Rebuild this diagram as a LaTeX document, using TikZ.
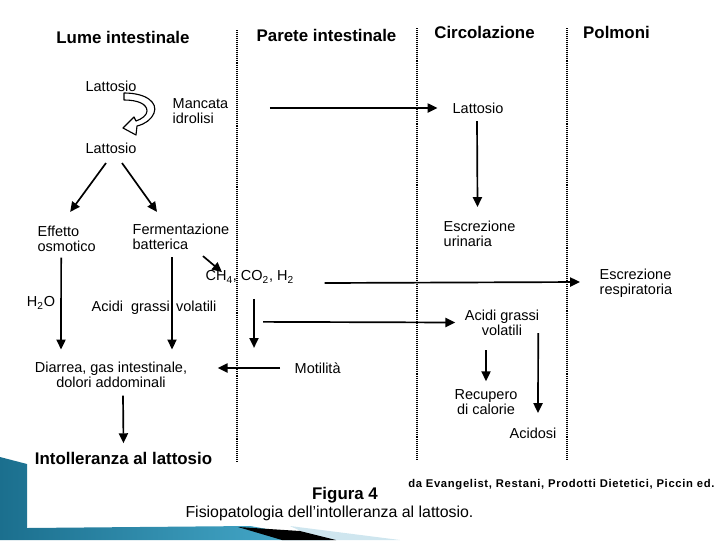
\documentclass[tikz,border=0pt]{standalone}
\usepackage{fontspec}
\setmainfont{Liberation Sans}
\newfontfamily\srcfont[LetterSpace=6]{Liberation Sans}
\usetikzlibrary{arrows.meta,positioning,calc}
\definecolor{tealdark}{HTML}{1B6F8E}
\definecolor{teallight}{HTML}{4AAFD0}
\definecolor{skypale}{HTML}{CFE6EF}

\begin{document}
\begin{tikzpicture}[x=0.025cm, y=-0.025cm,
        txt/.style={inner sep=1pt, font=\fontsize{10.3}{10.8}\selectfont},
        left text/.style={txt, anchor=west, align=left},
        mid text/.style={txt, align=center},
        header/.style={inner sep=1pt, font=\fontsize{12}{14}\selectfont\bfseries},
        arr/.style={-{Triangle[length=7pt,width=6.5pt]}, line width=1.2pt},
        divider/.style={line width=0.9pt, dash pattern=on 0.7pt off 0.7pt},
        hollow/.style={line width=0.8pt, fill=white, line join=round}]

        \useasboundingbox (0,0) rectangle (720,540);

        % slide ornament
        \shade[left color=tealdark, right color=teallight] (0,457) -- (27,464) -- (27,528) -- (250,526) -- (330,540) -- (0,540) -- cycle;
        \fill[skypale] (290,526) -- (400,540) -- (320,540) -- cycle;
        \fill[black] (238,527) -- (300,531) -- (336,540) -- (282,540) -- cycle;

        % column dividers
        \draw[divider] (237,30) -- (237,463);
        \draw[divider] (417,28) -- (417,460);
        \draw[divider] (567,28) -- (567,460);

        \node [header] (hlume) at (123,37) {Lume intestinale};
        \node [header] (hparete) at (326.5,35) {Parete intestinale};
        \node [header] (hcirc) at (484.5,32) {Circolazione};
        \node [header] (hpolm) at (616.5,32) {Polmoni};

        \node [txt] (lat1) at (111,86) {Lattosio};
        \node [left text] (mancata) at (171,111) {Mancata\\idrolisi};
        \node [txt] (lat2) at (111,148) {Lattosio};
        \node [left text] (effetto) at (36,239) {Effetto\\osmotico};
        \node [left text] (ferment) at (131,236.5) {Fermentazione\\batterica};
        \node [txt] (acqua) at (41,303) {H\textsubscript{2}O};
        \node [left text] (agv1) at (90,308) {Acidi\ \ grassi\ \,volatili};
        \node [left text] (gas) at (204,277) {CH\textsubscript{4}, CO\textsubscript{2}, H\textsubscript{2}};
        \node [mid text] (diarrea) at (111,375) {Diarrea, gas intestinale,\\dolori addominali};
        \node [header] (intoll) at (123.5,458) {Intolleranza al lattosio};
        \node [left text] (motil) at (293,368) {Motilità};

        \node [txt] (latc) at (478,108) {Lattosio};
        \node [left text] (urin) at (442,233.5) {Escrezione\\urinaria};
        \node [left text] (resp) at (598,283) {Escrezione\\respiratoria};
        \node [mid text] (agv2) at (502,322.5) {Acidi grassi\\volatili};
        \node [mid text] (recup) at (486,402) {Recupero\\di calorie};
        \node [txt] (acid) at (533,433) {Acidosi};

        \node [header] (figura) at (345,495) {Figura 4};
        \node [txt, font=\fontsize{11.3}{13}\selectfont] (titolo) at (329.5,513) {Fisiopatologia dell'intolleranza al lattosio.};
        \node [inner sep=0pt, anchor=west, font=\srcfont\bfseries\fontsize{8}{9}\selectfont] (fonte) at (408,485) {da Evangelist, Restani, Prodotti Dietetici, Piccin ed.};

        % mancata idrolisi
        \draw[hollow] (124,93) .. controls (147,93) and (158,103) .. (154,113) .. controls (151,120) and (145,124) .. (137,126) -- (136,135) -- (123,128) -- (134,117) -- (136,121) .. controls (142,119) and (147,115) .. (147,111) .. controls (147,104) and (138,100) .. (124,100) -- cycle;

        \draw[arr] ($(lat2.south)+(-5,8)$) -- ($(effetto.north)+(3.5,-12.5)$);
        \draw[arr] ($(lat2.south)+(11,8)$) -- ($(ferment.north)+(-24,-10)$);
        \draw[arr] ($(effetto.south)+(-5.5,4)$) -- ($(diarrea.north)+(-50,-11)$);
        \draw[arr] ($(ferment.south)+(-9,6)$) -- ($(diarrea.north)+(61,-11)$);
        \draw[arr] ($(ferment.south)+(22,5)$) -- ($(gas.north west)+(18,3)$);
        \draw[arr] ($(gas.south west)+(50,14)$) -- ($(gas.south west)+(50,63)$);
        \draw[arr] ($(gas.east)+(29,6)$) -- ($(resp.west)+(-18,-1)$);
        \draw[arr] ($(gas.south west)+(59,37)$) -- ($(agv2.west)+(-8,0)$);
        \draw[arr] ($(motil.west)+(-13,0)$) -- ($(diarrea.east)+(29,-7)$);
        \draw[arr] ($(diarrea.south)+(12,6)$) -- ($(intoll.north)+(0,-7)$);
        \draw[arr] ($(mancata.east)+(40,-3)$) -- ($(latc.west)+(-13.5,0)$);
        \draw[arr] ($(latc.south)+(-1,6)$) -- ($(urin.north)+(-2,-12)$);
        \draw[arr] ($(agv2.south)+(-16,13)$) -- ($(recup.north)+(0,-6.5)$);
        \draw[arr] ($(agv2.east)+(-2.5,10.5)$) -- ($(acid.north)+(5,-13)$);
    \end{tikzpicture}
\end{document}
